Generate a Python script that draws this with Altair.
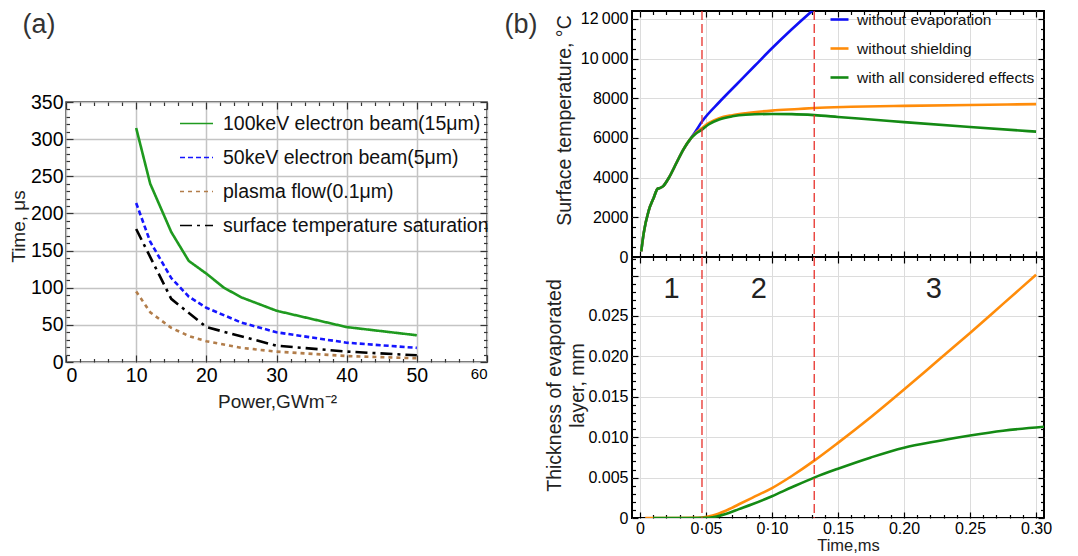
import altair as alt
import pandas as pd

FONT = "Liberation Sans"

panel_labels = ["(a)", "(b)"]

# ---------------- panel (a) ----------------
series_a = ["100keV electron beam(15μm)", "50keV electron beam(5μm)",
            "plasma flow(0.1μm)", "surface temperature saturation"]
colors_a = ["#1f9a1f", "#1515ff", "#b27d4a", "#000000"]
dashes_a = [[1, 0], [5, 3], [4, 4], [12, 5, 3, 5]]

p_100 = [10, 12, 15, 17.5, 20, 22.5, 25, 30, 40, 50]
t_100 = [315, 240, 175, 136, 119, 100, 87, 69, 47, 36]
p_50 = [10, 12, 15, 17.5, 20, 25, 30, 40, 50]
t_50 = [214, 162, 113, 88, 73, 53, 40, 26, 19]
p_pl = [10, 12, 15, 17.5, 20, 25, 30, 40, 50]
t_pl = [95, 67, 46, 35, 28, 19, 14, 8, 5]
p_sat = [10, 15, 20, 30, 40, 50]
t_sat = [179, 85, 47, 22, 14, 9]

x_ticks_a = [0, 10, 20, 30, 40, 50, 60]
y_ticks_a = [0, 50, 100, 150, 200, 250, 300, 350]
x_minor_a = list(range(0, 61, 2))
y_minor_a = list(range(0, 351, 10))

# ---------------- panel (b) ----------------
series_b = ["without evaporation", "without shielding", "with all considered effects"]
colors_b = ["#1010f5", "#ff8c0a", "#148a14"]

t_blue = [0.001, 0.0028, 0.0066, 0.0104, 0.0134, 0.0150, 0.0174, 0.0217, 0.028, 0.0331, 0.0381,
          0.042, 0.047, 0.06, 0.0735, 0.087, 0.1, 0.115, 0.13, 0.14]
T_blue = [280, 1180, 2330, 2980, 3440, 3470, 3560, 3970, 4790, 5440, 5940,
          6320, 6830, 7800, 8720, 9640, 10520, 11480, 12380, 12950]
t_orange = [0.001, 0.0028, 0.0066, 0.0104, 0.0134, 0.0150, 0.0174, 0.0217, 0.028, 0.0331, 0.0381,
            0.042, 0.047, 0.052, 0.06, 0.07, 0.08, 0.1, 0.12, 0.132, 0.16, 0.2, 0.25, 0.3]
T_orange = [280, 1180, 2330, 2980, 3440, 3470, 3560, 3970, 4790, 5440, 5940,
            6230, 6500, 6750, 7000, 7150, 7250, 7380, 7460, 7510, 7570, 7620, 7665, 7705]
t_green = [0.001, 0.0028, 0.0066, 0.0104, 0.0134, 0.0150, 0.0174, 0.0217, 0.028, 0.0331, 0.0381,
           0.042, 0.047, 0.052, 0.06, 0.07, 0.08, 0.1, 0.115, 0.132, 0.15, 0.175, 0.2, 0.25, 0.3]
T_green = [280, 1180, 2330, 2980, 3440, 3470, 3560, 3970, 4790, 5440, 5940,
           6200, 6420, 6680, 6930, 7090, 7170, 7210, 7200, 7150, 7060, 6930, 6800, 6550, 6320]

th_t_orange = [0.004, 0.02, 0.04, 0.047, 0.055, 0.065, 0.075, 0.085, 0.1, 0.115, 0.132,
               0.15, 0.175, 0.2, 0.225, 0.25, 0.275, 0.3]
th_orange = [0, 0, 0.00002, 0.00006, 0.0003, 0.0009, 0.0017, 0.0025, 0.0037, 0.0052, 0.0071,
             0.0093, 0.0125, 0.0159, 0.0194, 0.0229, 0.0265, 0.0301]
th_t_green = [0.01, 0.04, 0.05, 0.055, 0.065, 0.075, 0.085, 0.1, 0.115, 0.132, 0.15,
              0.175, 0.2, 0.225, 0.25, 0.275, 0.306]
th_green = [0, 0, 0.00002, 0.0001, 0.0005, 0.0011, 0.0017, 0.0027, 0.0038, 0.0050, 0.0061,
            0.0075, 0.0087, 0.0095, 0.0102, 0.0108, 0.0113]

stage_lines = [0.047, 0.132]
stage_labels = ["1", "2", "3"]
stage_x = [0.024, 0.090, 0.2225]
stage_y = [0.0283, 0.0283, 0.0283]

x_ticks_b = [0, 0.05, 0.10, 0.15, 0.20, 0.25, 0.30]
y_ticks_top = [0, 2000, 4000, 6000, 8000, 10000, 12000]
y_ticks_bot = [0, 0.005, 0.010, 0.015, 0.020, 0.025, 0.030]
x_minor_b = [i / 100 for i in range(0, 31)]
y_minor_top = list(range(0, 12401, 500))
y_minor_bot = [i / 1000 for i in range(0, 33)]

# ---------------- tables ----------------
rows = []
for name, ps, ts in zip(series_a, [p_100, p_50, p_pl, p_sat], [t_100, t_50, t_pl, t_sat]):
    for p, t in zip(ps, ts):
        rows.append({"power": p, "time": t, "series": name})
df_a = pd.DataFrame(rows)

rows = []
for name, ts, vs in zip(series_b, [t_blue, t_orange, t_green], [T_blue, T_orange, T_green]):
    for t, v in zip(ts, vs):
        rows.append({"t": t, "v": v, "series": name})
df_top = pd.DataFrame(rows)

rows = []
for name, ts, vs in zip(series_b[1:], [th_t_orange, th_t_green], [th_orange, th_green]):
    for t, v in zip(ts, vs):
        rows.append({"t": t, "v": v, "series": name})
df_bot = pd.DataFrame(rows)

df_vl = pd.DataFrame({"t": stage_lines})
df_stage = pd.DataFrame({"t": stage_x, "v": stage_y, "label": stage_labels})


def tick_axis(orient, offset, vals, major_test, big, small, color, width):
    return alt.Axis(orient=orient, offset=offset, values=vals, labels=False, grid=False,
                    domain=False, title=None, ticks=True, tickColor=color, tickWidth=width,
                    tickSize={"condition": {"test": major_test, "value": big}, "value": small})


def tick_layers(data, xf, yf, xs, ys, w, h, xvals, xtest, yvals, ytest, big, small, color, width):
    base = alt.Chart(data).mark_point(opacity=0, size=1, clip=True)
    l2 = base.encode(
        x=alt.X(xf, scale=xs, axis=tick_axis("top", -h, xvals, xtest, big, small, color, width)),
        y=alt.Y(yf, scale=ys, axis=tick_axis("right", -w, yvals, ytest, big, small, color, width)))
    l3 = base.encode(
        x=alt.X(xf, scale=xs, axis=tick_axis("bottom", -h, xvals, xtest, big, small, color, width)),
        y=alt.Y(yf, scale=ys, axis=tick_axis("left", -w, yvals, ytest, big, small, color, width)))
    return [l2, l3]


# ---------------- chart (a) ----------------
W_A, H_A = 421, 260
grid_a = "#c4c4c4"
axis_a_common = dict(grid=True, gridColor=grid_a, gridWidth=1.5, domain=False, ticks=False,
                     labelFont=FONT, titleFont=FONT, labelColor="black", titleColor="#222",
                     titleFontWeight="normal")
xs_a = alt.Scale(domain=[0, 60], nice=False, zero=False)
ys_a = alt.Scale(domain=[0, 350], nice=False)

legend_a = alt.Legend(orient="none", legendX=113, legendY=4, title=None, symbolType="stroke",
                      symbolSize=1089, symbolStrokeWidth=1.5, labelFontSize=19.5, labelFont=FONT,
                      labelColor="#111", labelOffset=9, rowPadding=7, padding=0,
                      labelLimit=400)

lines_a = alt.Chart(df_a).mark_line(strokeWidth=2.6, clip=True).encode(
    x=alt.X("power:Q", scale=xs_a,
            axis=alt.Axis(orient="bottom", values=x_ticks_a, format="d", title="Power,GWm⁻²",
                          labelFontSize={"condition": {"test": "datum.value == 60", "value": 15},
                                         "value": 19.5},
                          labelPadding=4, titleFontSize=19, titleX=211, titleY=39,
                          titleBaseline="middle", **axis_a_common)),
    y=alt.Y("time:Q", scale=ys_a,
            axis=alt.Axis(orient="left", values=y_ticks_a, format="d", title="Time, μs",
                          labelFontSize=19.5, labelPadding=3, titleFontSize=19, titleX=-48,
                          titleY=124, titleBaseline="middle", titleAngle=270, **axis_a_common)),
    color=alt.Color("series:N", scale=alt.Scale(domain=series_a, range=colors_a), legend=legend_a),
    strokeDash=alt.StrokeDash("series:N", scale=alt.Scale(domain=series_a, range=dashes_a),
                              legend=legend_a),
)

ticks_a = tick_layers(df_a, "power:Q", "time:Q", xs_a, ys_a, W_A, H_A,
                      x_minor_a, "datum.value % 10 == 0", y_minor_a, "datum.value % 50 == 0",
                      7, 3.5, "#333", 1.2)

chart_a = alt.layer(lines_a, *ticks_a).resolve_axis(x="independent", y="independent").properties(
    width=W_A, height=H_A, view=alt.ViewBackground(stroke="#333", strokeWidth=1.5))

spacer_a = alt.Chart(pd.DataFrame({"label": [panel_labels[0]]})).mark_text(
    font=FONT, fontSize=27, color="#333", align="center", baseline="middle"
).encode(x=alt.value(-27), y=alt.value(13.5), text="label:N").properties(
    width=W_A, height=91, view=alt.ViewBackground(strokeWidth=0))

left_col = alt.vconcat(spacer_a, chart_a, spacing=0, bounds="flush").resolve_scale(
    color="independent", strokeDash="independent", x="independent", y="independent")

# ---------------- chart (b) ----------------
W_B, H_T, H_B = 412, 246, 261
grid_b = "#dcdcdc"
axis_b_common = dict(grid=True, gridColor=grid_b, gridWidth=1, domain=False, ticks=False,
                     labelFont=FONT, titleFont=FONT, labelColor="black", titleColor="#222",
                     titleFontWeight="normal")
xb_scale = alt.Scale(domain=[-0.006, 0.306], nice=False, zero=False)
ys_top = alt.Scale(domain=[0, 12400], nice=False)
ys_bot = alt.Scale(domain=[0, 0.0323], nice=False)
x_major_b = "abs(datum.value * 20 - round(datum.value * 20)) < 1e-6"

legend_b = alt.Legend(orient="none", legendX=197, legendY=-2, title=None, symbolType="stroke",
                      symbolSize=324, symbolStrokeWidth=2.6, labelFontSize=15.5, labelFont=FONT,
                      labelColor="#111", labelOffset=7, rowPadding=10, padding=0, labelLimit=400)

lines_top = alt.Chart(df_top).mark_line(strokeWidth=2.6, clip=True, interpolate="monotone").encode(
    x=alt.X("t:Q", scale=xb_scale,
            axis=alt.Axis(orient="bottom", values=x_ticks_b, labels=False, title=None,
                          **axis_b_common)),
    y=alt.Y("v:Q", scale=ys_top,
            axis=alt.Axis(orient="left", values=y_ticks_top,
                          labelExpr="datum.value >= 10000 ? replace(format(datum.value, ','), ',', '\u2009') : format(datum.value, 'd')",
                          labelFontSize=16, labelPadding=4, title="Surface temperature, °C",
                          titleFontSize=19.5, titleX=-68, titleY=109, titleBaseline="middle",
                          titleAngle=270, **axis_b_common)),
    color=alt.Color("series:N", scale=alt.Scale(domain=series_b, range=colors_b), legend=legend_b),
)

rules_top = alt.Chart(df_vl).mark_rule(color="#e8302a", strokeWidth=1.3, strokeDash=[9, 4]).encode(
    x=alt.X("t:Q", scale=xb_scale, axis=None))

text_b = alt.Chart(pd.DataFrame({"label": [panel_labels[1]]})).mark_text(
    font=FONT, fontSize=27, color="#333", align="center", baseline="middle"
).encode(x=alt.value(-111), y=alt.value(13.5), text="label:N")

ticks_top = tick_layers(df_top, "t:Q", "v:Q", xb_scale, ys_top, W_B, H_T,
                        x_minor_b, x_major_b, y_minor_top, "datum.value % 2000 == 0",
                        6, 3.5, "black", 1.2)

b_top = alt.layer(lines_top, rules_top, text_b, *ticks_top).resolve_axis(
    x="independent", y="independent").properties(
    width=W_B, height=H_T, view=alt.ViewBackground(stroke="black", strokeWidth=2))

lines_bot = alt.Chart(df_bot).mark_line(strokeWidth=2.6, clip=True, interpolate="monotone").encode(
    x=alt.X("t:Q", scale=xb_scale,
            axis=alt.Axis(orient="bottom", values=x_ticks_b,
                          labelExpr="datum.value == 0 ? '0' : (datum.value < 0.12 ? replace(format(datum.value, '.2f'), '.', '·') : format(datum.value, '.2f'))",
                          labelFontSize=16, labelPadding=2, title="Time,ms", titleFontSize=16.5,
                          titleX=216, titleY=27.5, titleBaseline="middle", **axis_b_common)),
    y=alt.Y("v:Q", scale=ys_bot,
            axis=alt.Axis(orient="left", values=y_ticks_bot,
                          labelExpr="datum.value == 0 ? '0' : (datum.value > 0.0275 ? '' : format(datum.value, '.3f'))",
                          labelFontSize=16, labelPadding=4,
                          title=["Thickness of evaporated", "layer, mm"], titleFontSize=19.5,
                          titleLineHeight=22.5, titleX=-77.5, titleY=128, titleBaseline="middle",
                          titleAngle=270, **axis_b_common)),
    color=alt.Color("series:N", scale=alt.Scale(domain=series_b, range=colors_b), legend=None),
)

rules_bot = alt.Chart(df_vl).mark_rule(color="#e8302a", strokeWidth=1.3, strokeDash=[9, 4]).encode(
    x=alt.X("t:Q", scale=xb_scale, axis=None))

stage_text = alt.Chart(df_stage).mark_text(font=FONT, fontSize=29, color="#222", align="center",
                                            baseline="middle").encode(
    x=alt.X("t:Q", scale=xb_scale, axis=None), y=alt.Y("v:Q", scale=ys_bot, axis=None),
    text="label:N")

ticks_bot = tick_layers(df_bot, "t:Q", "v:Q", xb_scale, ys_bot, W_B, H_B,
                        x_minor_b, x_major_b, y_minor_bot,
                        "abs(datum.value * 200 - round(datum.value * 200)) < 1e-6",
                        6, 3.5, "black", 1.2)

b_bot = alt.layer(lines_bot, rules_bot, stage_text, *ticks_bot).resolve_axis(
    x="independent", y="independent").properties(
    width=W_B, height=H_B, view=alt.ViewBackground(stroke="black", strokeWidth=2))

chart_b = alt.vconcat(b_top, b_bot, spacing=0, bounds="flush").resolve_scale(
    color="independent", x="independent", y="independent")

chart = alt.hconcat(left_col, chart_b, spacing=13).properties(
    padding=0, background="white"
).resolve_scale(
    color="independent", strokeDash="independent", x="independent", y="independent"
)

chart.save("out.html", embed_options={"renderer": "svg", "actions": False})
